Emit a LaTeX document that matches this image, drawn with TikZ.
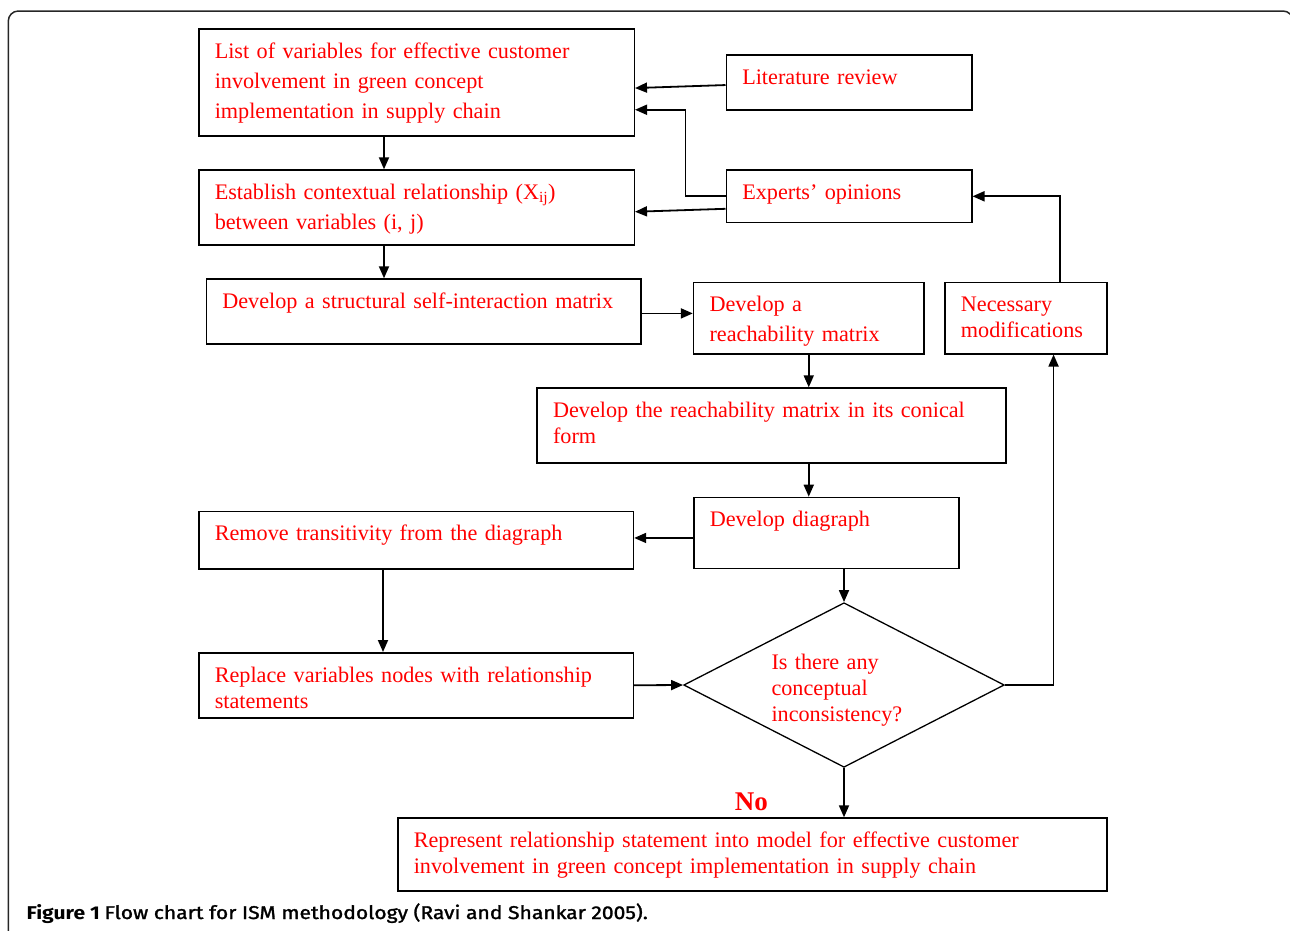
\documentclass[tikz,border=0pt]{standalone}
\usepackage{fontspec}
\setmainfont{Liberation Serif}
\newfontfamily\capfont{Fira Sans}[FakeStretch=1.14]
\newfontfamily\capsemi{Fira Sans}[FakeStretch=1.14, FakeBold=1.6]
\usetikzlibrary{arrows.meta, positioning, shapes.geometric}

\tikzset{
  box/.style 2 args={draw, anchor=north west, align=left, inner xsep=16pt, inner ysep=0pt,
    text height=29.5pt, text width=#1pt, text depth=#2pt, line width=1.5pt, text=red,
    font=\fontsize{22.2}{30}\selectfont},
  tight/.style={font=\fontsize{22.2}{26}\selectfont},
  decision/.style={draw, diamond, aspect=1.95, minimum width=320.6pt, minimum height=164.6pt,
    inner sep=0pt, text width=145pt, text height=25pt, align=left, line width=1.3pt, text=red,
    font=\fontsize{22.2}{26}\selectfont}
}

\begin{document}
\begin{tikzpicture}[x=1pt, y=-1pt, ->, >={Triangle[length=12pt, width=10pt]}, line width=1.8pt]
    \useasboundingbox (0,0) rectangle (1290,930);
    \draw[-, line width=1.5pt, black!85, rounded corners=10pt] (8.3,11) rectangle (1293,960);

    % boxes
    \node[box={403.5}{77.5}]        (list)    at (198,28)      {List of variables for effective customer\\ involvement in green concept\\ implementation in supply chain};
    \node[box={213.5}{25.5}]        (lit)     at (725.5,54)    {Literature review};
    \node[box={403.5}{45.5}]        (estab)   at (198,169.3)   {Establish contextual relationship (X\textsubscript{ij})\\ between variables (i, j)};
    \node[box={213.5}{23}]          (expert)  at (725.5,169.3) {Experts' opinions};
    \node[box={402.8}{35.2}]        (ssim)    at (205.6,278.3) {Develop a structural self-interaction matrix};
    \node[box={198.4}{41.8}]        (reach)   at (692.8,281.7) {Develop a\\ reachability matrix};
    \node[box={129.8}{41.8}, tight] (nec)     at (944.2,281.7) {Necessary\\ modifications};
    \node[box={436.7}{45.2}, tight] (conical) at (536.3,387.3) {Develop the reachability matrix in its conical\\ form};
    \node[box={233}{41.5}]          (digraph) at (693,496.7)   {Develop diagraph};
    \node[box={402.7}{27.8}]        (remove)  at (198,510.7)   {Remove transitivity from the diagraph};
    \node[box={402.7}{35.5}, tight] (replace) at (198,652)     {Replace variables nodes with relationship\\ statements};
    \node[decision]                 (check)   at (844,685)     {Is there any\\ conceptual\\ inconsistency?};
    \node[box={677}{43.2}, tight]   (final)   at (397,817.3)   {Represent relationship statement into model for effective customer\\ involvement in green concept implementation in supply chain};

    \node[anchor=base west, inner sep=0pt, text=red, font=\bfseries\fontsize{27}{30}\selectfont] (no) at (734,810.7) {No};
    \node[anchor=base west, inner sep=0pt, font=\fontsize{18.5}{22}\selectfont] (caption) at (25.7,919)
        {{\capfont\bfseries Figure 1} \capsemi Flow chart for ISM methodology (Ravi and Shankar 2005).};

    % connectors
    \path ([xshift=186pt]list.south west)  edge ([xshift=186pt]list.south west |- estab.north);
    \path ([xshift=186pt]estab.south west) edge ([xshift=186pt]estab.south west |- ssim.north);
    \path ([yshift=-2.8pt]lit.west)        edge ([yshift=-5.8pt]list.east);
    \draw (expert.west) -- ++(-40pt,0) |- ([yshift=-27.5pt]list.east);
    \path ([yshift=-12.5pt]expert.west)    edge ([yshift=-4.2pt]estab.east);
    \path ([yshift=-2pt]ssim.east)         edge ([yshift=-2pt]ssim.east -| reach.west);
    \path (reach.south)                    edge (reach.south |- conical.north);
    \path (conical.south -| reach.south)   edge (digraph.north -| reach.south);
    \path ([yshift=-5pt]digraph.west)      edge ([yshift=-5pt]digraph.west -| remove.east);
    \path (check.north |- digraph.south)   edge (check.north);
    \path ([xshift=185pt]remove.south west) edge ([xshift=185pt]remove.south west |- replace.north);
    \path (replace.east)                   edge (check.west);
    \draw (check.east) -| ([xshift=27.7pt]nec.south);
    \draw ([xshift=34.3pt]nec.north) |- (expert.east);
    \path (check.south)                    edge (check.south |- final.north);
\end{tikzpicture}
\end{document}
